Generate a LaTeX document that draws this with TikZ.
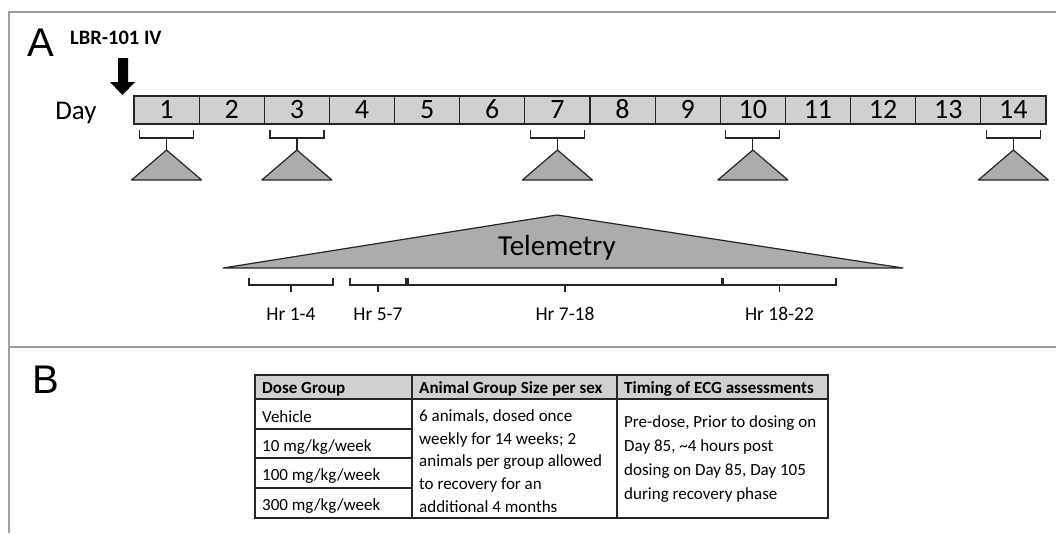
\documentclass[tikz,border=0pt]{standalone}
\usepackage{fontspec}
\setmainfont{Carlito}
\newfontfamily\panelfont{Liberation Sans}
\usetikzlibrary{positioning}
\def\daywidth{65.14}
\def\fsize#1{\fontsize{#1}{#1}\selectfont}
\tikzset{
  frameline/.style={draw=gray!75, line width=1.3pt},
  daybox/.style={draw=black!85, fill=gray!37, line width=1.2pt, minimum width=\daywidth pt,
    minimum height=28pt, inner sep=0pt, outer sep=0pt, text height=17.5pt, text depth=0pt,
    font=\fsize{28}},
  bracket/.style={draw=black!85, line width=1.3pt},
  marker/.style={draw=black!85, fill=gray!65, line width=1.2pt, line join=round},
  hrlabel/.style={inner sep=0pt, font=\fsize{19.5}},
  tableline/.style={draw=black!85, line width=1.2pt},
  cell/.style={inner sep=0pt, anchor=base west, font=\fsize{17}},
  headcell/.style={cell, font=\fsize{17}\bfseries},
  panel/.style={inner sep=0pt, anchor=base west, font=\panelfont\fsize{40}}
}
\begin{document}
\begin{tikzpicture}[x=1pt, y=-1pt]
  \useasboundingbox (0,0) rectangle (1056,533);
  % frame
  \draw[frameline] (1056,12) -- (9,12) -- (9,533);
  \draw[frameline] (9,347) -- (1056,347);
  \node[panel] (panelA) at (27,56) {A};
  \node[panel] (panelB) at (32,393) {B};

  % dosing and days
  \node[inner sep=0pt, anchor=base west, font=\fsize{20.5}\bfseries] (dose) at (70,44) {LBR-101 IV};
  \fill[black] (118,58) -- (128,58) -- (128,82) -- (135,82) -- (122.5,95) -- (110,82) -- (118,82) -- cycle;
  \node[inner sep=0pt, anchor=base, font=\fsize{27}] (day) at (76,119) {Day};
  \node[daybox] (d1) at (166.57,110) {1};
  \foreach \i [remember=\i as \j (initially 1)] in {2,...,14}
    \node[daybox, right=0pt of d\j] (d\i) {\i};
  \foreach \k in {1,3,7,10,14}{
    \begin{scope}[shift={(d\k.south)}]
      \draw[bracket] (-27,6) |- (27,14) -- (27,6) (0,14) -- (0,26);
      \draw[marker] (0,26) -- (-35,56) -- (35,56) -- cycle;
    \end{scope}
  }

  % telemetry
  \draw[marker] (557,215) -- (223,268) -- (903,268) -- cycle;
  \node[inner sep=0pt, anchor=base, font=\fsize{29}] (telemetry) at (557,255) {Telemetry};
  \foreach \a/\b/\t [count=\n] in {249/333/Hr 1-4, 350/406/Hr 5-7, 408/722/Hr 7-18, 723/836/Hr 18-22}{
    \draw[bracket] (\a,278) |- (\b,285) -- (\b,278) ({(\a+\b)/2},285) -- ({(\a+\b)/2},292);
    \node[hrlabel] (hr\n) at ({(\a+\b)/2},314) {\t};
  }

  % table
  \fill[gray!37] (255,375) rectangle (828,399);
  \draw[tableline] (255,375) rectangle (828,518);
  \draw[tableline] (255,399) -- (828,399) (255,429) -- (412,429) (255,458) -- (412,458)
    (255,488) -- (412,488) (412,375) -- (412,518) (617,375) -- (617,518);
  \node[headcell] (h1) at (262,393) {Dose Group};
  \node[headcell] (h2) at (419,393) {Animal Group Size per sex};
  \node[headcell] (h3) at (624,393) {Timing of ECG assessments};
  \node[cell] (g1) at (262,422) {Vehicle};
  \node[cell] (g2) at (262,451) {10 mg/kg/week};
  \node[cell] (g3) at (262,480) {100 mg/kg/week};
  \node[cell] (g4) at (262,510) {300 mg/kg/week};
  \node[cell, anchor=west, align=left, font=\fontsize{17}{22.8}\selectfont] (size) at (419,461)
    {6 animals, dosed once\\weekly for 14 weeks; 2\\animals per group allowed\\to recovery for an\\additional 4 months};
  \node[cell, anchor=west, align=left, font=\fontsize{17}{23.9}\selectfont] (timing) at (624,459)
    {Pre-dose, Prior to dosing on\\Day 85, \textasciitilde4 hours post\\dosing on Day 85, Day 105\\during recovery phase};
\end{tikzpicture}
\end{document}
